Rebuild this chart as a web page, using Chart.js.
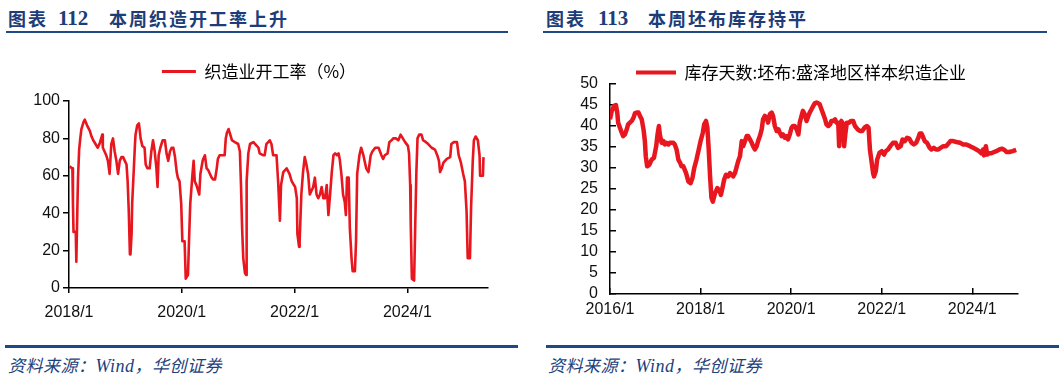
<!DOCTYPE html>
<html lang="zh">
<head>
<meta charset="UTF-8">
<title>本周织造开工率上升 / 本周坯布库存持平</title>
<script src="https://cdn.jsdelivr.net/npm/chart.js"></script>
<style>
  body { margin: 0; background: #fff; }
  #page { position: relative; width: 1059px; height: 379px; overflow: hidden; }
  .t { position: absolute; top: 6px; color: #1c3d78; font: 700 18px "Noto Sans CJK SC", sans-serif; letter-spacing: 2px; line-height: 24px; white-space: nowrap; }
  .n { font-family: "Liberation Serif", serif; font-size: 21px; letter-spacing: 0; }
  .bar { position: absolute; background: #1d4a86; }
  .src { position: absolute; top: 352px; color: #1d3f7a; font: italic 17px "Noto Sans CJK SC", sans-serif; letter-spacing: 0.5px; white-space: nowrap; }
  .src i { font-family: "Liberation Serif", serif; font-size: 18px; }
  canvas { position: absolute; top: 40px; }
</style>
</head>
<body>
<div id="page">
  <div class="t" style="left:8px">图表</div>
  <div class="t n" style="left:58px">112</div>
  <div class="t" style="left:109px">本周织造开工率上升</div>
  <div class="bar" style="left:6px; top:31px; width:502px; height:2px"></div>

  <div class="t" style="left:546px">图表</div>
  <div class="t n" style="left:598px">113</div>
  <div class="t" style="left:648px">本周坯布库存持平</div>
  <div class="bar" style="left:543px; top:31px; width:504px; height:2px"></div>

  <canvas id="left" width="530" height="290" style="left:0"></canvas>
  <canvas id="right" width="529" height="290" style="left:530px"></canvas>

  <div class="bar" style="left:5px; top:345px; width:513px; height:3px"></div>
  <div class="bar" style="left:546px; top:345px; width:513px; height:3px"></div>
  <div class="src" style="left:8px">资料来源：<i>Wind</i>，华创证券</div>
  <div class="src" style="left:548px">资料来源：<i>Wind</i>，华创证券</div>
</div>

<script>
// 织造业开工率（%），周度，日期为小数年份
const leftDates = [
  2018.01, 2018.06, 2018.07, 2018.08, 2018.12, 2018.13, 2018.14, 2018.15, 2018.16, 2018.18,
  2018.20, 2018.22, 2018.26, 2018.28, 2018.32, 2018.37, 2018.40, 2018.43, 2018.47, 2018.51,
  2018.54, 2018.59, 2018.60, 2018.63, 2018.66, 2018.69, 2018.72, 2018.75, 2018.78, 2018.81,
  2018.84, 2018.87, 2018.90, 2018.93, 2018.96, 2018.99, 2019.02, 2019.04, 2019.06, 2019.08,
  2019.09, 2019.11, 2019.12, 2019.15, 2019.17, 2019.18, 2019.21, 2019.24, 2019.27, 2019.30,
  2019.34, 2019.36, 2019.39, 2019.43, 2019.46, 2019.49, 2019.52, 2019.55, 2019.57, 2019.59,
  2019.62, 2019.66, 2019.70, 2019.73, 2019.76, 2019.79, 2019.82, 2019.85, 2019.88, 2019.91,
  2019.93, 2019.96, 2019.99, 2020.01, 2020.05, 2020.07, 2020.11, 2020.13, 2020.15, 2020.19,
  2020.21, 2020.23, 2020.26, 2020.31, 2020.33, 2020.37, 2020.38, 2020.41, 2020.44, 2020.47,
  2020.50, 2020.53, 2020.56, 2020.59, 2020.62, 2020.64, 2020.67, 2020.73, 2020.76, 2020.78,
  2020.80, 2020.83, 2020.86, 2020.89, 2020.94, 2021.00, 2021.03, 2021.05, 2021.07, 2021.09,
  2021.12, 2021.14, 2021.15, 2021.18, 2021.21, 2021.27, 2021.33, 2021.36, 2021.38, 2021.44,
  2021.47, 2021.50, 2021.56, 2021.59, 2021.62, 2021.68, 2021.71, 2021.74, 2021.76, 2021.80,
  2021.86, 2021.91, 2021.95, 2022.01, 2022.04, 2022.05, 2022.08, 2022.09, 2022.12, 2022.15,
  2022.18, 2022.21, 2022.24, 2022.27, 2022.33, 2022.36, 2022.39, 2022.42, 2022.45, 2022.48,
  2022.51, 2022.54, 2022.57, 2022.60, 2022.63, 2022.66, 2022.69, 2022.72, 2022.75, 2022.78,
  2022.80, 2022.83, 2022.86, 2022.89, 2022.91, 2022.93, 2022.96, 2022.98, 2023.01, 2023.03,
  2023.07, 2023.09, 2023.11, 2023.15, 2023.18, 2023.22, 2023.27, 2023.31, 2023.35, 2023.38,
  2023.43, 2023.49, 2023.54, 2023.57, 2023.60, 2023.65, 2023.68, 2023.72, 2023.75, 2023.80,
  2023.84, 2023.88, 2023.92, 2023.96, 2024.01, 2024.03, 2024.05, 2024.06, 2024.08, 2024.12,
  2024.14, 2024.16, 2024.18, 2024.21, 2024.25, 2024.28, 2024.33, 2024.37, 2024.43, 2024.49,
  2024.53, 2024.56, 2024.58, 2024.61, 2024.64, 2024.70, 2024.76, 2024.78, 2024.82, 2024.88,
  2024.91, 2024.95, 2024.99, 2025.02, 2025.05, 2025.07, 2025.11, 2025.13, 2025.16, 2025.18,
  2025.21, 2025.25, 2025.28, 2025.29, 2025.34, 2025.35
];
const leftValues = [
  65, 64, 45, 30, 30, 14, 14, 45, 59, 74,
  80, 85, 89, 90, 87, 84, 81, 79, 77, 75,
  77, 82, 75, 73, 71, 68, 61, 77, 80, 73,
  68, 61, 68, 70, 70, 68, 66, 57, 41, 18,
  18, 29, 45, 64, 77, 82, 87, 88, 80, 76,
  75, 66, 64, 64, 73, 79, 73, 64, 54, 71,
  75, 79, 79, 72, 68, 73, 75, 75, 70, 62,
  59, 57, 45, 25, 25, 5, 7, 27, 45, 61,
  68, 57, 55, 50, 61, 68, 69, 71, 64, 63,
  61, 59, 58, 58, 64, 69, 71, 71, 71, 80,
  83, 85, 82, 79, 78, 77, 73, 55, 32, 16,
  8, 7, 57, 72, 77, 78, 76, 75, 72, 71,
  71, 77, 79, 77, 71, 71, 56, 36, 55, 62,
  64, 61, 57, 54, 48, 29, 22, 25, 50, 62,
  70, 66, 61, 50, 54, 59, 50, 48, 50, 54,
  48, 48, 55, 39, 50, 62, 71, 72, 71, 72,
  69, 61, 50, 46, 39, 59, 59, 32, 16, 9,
  9, 25, 61, 71, 75, 71, 64, 62, 71, 73,
  75, 75, 71, 69, 71, 72, 78, 79, 80, 80,
  79, 82, 80, 78, 76, 72, 55, 34, 5, 4,
  34, 62, 80, 82, 82, 79, 78, 77, 75, 74,
  71, 68, 62, 64, 67, 69, 70, 77, 78, 78,
  71, 67, 61, 57, 41, 16, 16, 43, 68, 79,
  81, 79, 71, 60, 60, 70
];

// 库存天数:坯布:盛泽地区样本织造企业
const rightDates = [
  2016.00, 2016.04, 2016.09, 2016.13, 2016.16, 2016.18, 2016.22, 2016.26, 2016.29, 2016.33,
  2016.37, 2016.40, 2016.44, 2016.48, 2016.52, 2016.55, 2016.59, 2016.63, 2016.66, 2016.70,
  2016.74, 2016.77, 2016.79, 2016.82, 2016.87, 2016.92, 2016.97, 2017.02, 2017.05, 2017.08,
  2017.10, 2017.14, 2017.18, 2017.21, 2017.25, 2017.29, 2017.32, 2017.36, 2017.40, 2017.43,
  2017.47, 2017.51, 2017.55, 2017.58, 2017.62, 2017.68, 2017.73, 2017.78, 2017.82, 2017.86,
  2017.91, 2017.96, 2018.00, 2018.05, 2018.08, 2018.12, 2018.15, 2018.18, 2018.21, 2018.24,
  2018.27, 2018.32, 2018.37, 2018.41, 2018.45, 2018.49, 2018.52, 2018.56, 2018.61, 2018.65,
  2018.69, 2018.72, 2018.76, 2018.80, 2018.83, 2018.87, 2018.91, 2018.94, 2018.98, 2019.02,
  2019.05, 2019.09, 2019.13, 2019.16, 2019.20, 2019.24, 2019.27, 2019.31, 2019.35, 2019.38,
  2019.42, 2019.46, 2019.49, 2019.53, 2019.57, 2019.60, 2019.64, 2019.68, 2019.72, 2019.75,
  2019.79, 2019.82, 2019.86, 2019.90, 2019.93, 2019.97, 2020.01, 2020.04, 2020.08, 2020.12,
  2020.16, 2020.19, 2020.23, 2020.26, 2020.30, 2020.34, 2020.38, 2020.41, 2020.45, 2020.49,
  2020.52, 2020.56, 2020.60, 2020.63, 2020.67, 2020.71, 2020.75, 2020.78, 2020.82, 2020.86,
  2020.89, 2020.93, 2020.97, 2021.00, 2021.04, 2021.06, 2021.09, 2021.11, 2021.15, 2021.17,
  2021.20, 2021.23, 2021.28, 2021.32, 2021.37, 2021.41, 2021.47, 2021.52, 2021.57, 2021.62,
  2021.67, 2021.71, 2021.74, 2021.78, 2021.81, 2021.83, 2021.87, 2021.90, 2021.95, 2022.00,
  2022.05, 2022.09, 2022.14, 2022.19, 2022.25, 2022.31, 2022.36, 2022.42, 2022.46, 2022.51,
  2022.56, 2022.61, 2022.66, 2022.71, 2022.76, 2022.81, 2022.84, 2022.88, 2022.92, 2022.95,
  2023.00, 2023.06, 2023.10, 2023.15, 2023.20, 2023.25, 2023.30, 2023.36, 2023.42, 2023.47,
  2023.52, 2023.58, 2023.65, 2023.73, 2023.80, 2023.87, 2023.95, 2024.02, 2024.09, 2024.15,
  2024.20, 2024.24, 2024.26, 2024.30, 2024.33, 2024.37, 2024.42, 2024.48, 2024.53, 2024.60,
  2024.66, 2024.71, 2024.76, 2024.82, 2024.89, 2024.97
];
const rightValues = [
  41.6, 43.6, 44.8, 45.0, 43.2, 40.8, 39.6, 38.4, 37.6, 38.0,
  39.2, 40.4, 40.8, 41.2, 42.0, 43.0, 43.2, 43.2, 42.4, 41.6,
  39.2, 36.4, 32.8, 30.4, 30.8, 32.0, 32.4, 35.2, 38.0, 40.0,
  38.0, 36.0, 36.4, 35.6, 36.0, 35.6, 36.0, 36.0, 36.0, 35.6,
  34.4, 32.0, 31.2, 30.4, 30.4, 28.8, 26.8, 26.4, 27.6, 30.0,
  32.0, 34.4, 36.4, 38.4, 40.4, 41.2, 39.6, 34.4, 28.0, 22.9,
  22.0, 24.0, 25.2, 24.8, 23.6, 25.6, 27.2, 28.4, 28.0, 28.8,
  28.4, 28.0, 28.8, 30.4, 31.6, 32.8, 36.4, 35.2, 36.4, 37.6,
  37.6, 36.8, 36.0, 35.2, 34.4, 35.2, 36.4, 37.6, 39.2, 41.6,
  42.4, 42.0, 40.8, 42.8, 43.2, 42.4, 40.0, 38.8, 39.2, 38.4,
  37.6, 38.0, 37.2, 37.6, 36.8, 38.0, 39.6, 40.0, 40.0, 39.2,
  38.0, 40.8, 42.4, 43.6, 42.8, 41.2, 42.4, 43.2, 44.0, 44.8,
  45.4, 45.6, 45.4, 45.2, 44.0, 42.8, 41.6, 40.4, 40.0, 40.4,
  41.2, 41.2, 41.6, 40.8, 40.8, 35.2, 40.8, 41.2, 40.4, 35.2,
  38.4, 40.8, 40.8, 41.2, 41.2, 40.0, 39.2, 38.8, 38.8, 39.6,
  40.0, 39.6, 34.4, 31.2, 28.8, 28.0, 29.2, 32.0, 33.6, 34.0,
  33.2, 34.0, 34.4, 35.2, 36.0, 36.0, 34.8, 35.2, 36.8, 36.4,
  37.2, 37.0, 36.0, 35.6, 36.0, 37.2, 38.2, 38.2, 37.2, 36.4,
  36.0, 34.8, 34.4, 34.8, 34.4, 34.4, 34.8, 35.2, 35.2, 35.8,
  36.4, 36.4, 36.2, 36.0, 35.6, 35.6, 35.2, 34.8, 34.4, 34.0,
  33.5, 34.4, 33.0, 35.2, 33.2, 33.5, 33.5, 33.8, 34.0, 34.4,
  34.6, 34.3, 33.8, 33.8, 34.0, 34.3
];

const leftTicks = [2018, 2020, 2022, 2024];
const leftTickLabels = ['2018/1', '2020/1', '2022/1', '2024/1'];
const rightTicks = [2016, 2018, 2020, 2022, 2024];
const rightTickLabels = ['2016/1', '2018/1', '2020/1', '2022/1', '2024/1'];

const RED = '#e8161f';
Chart.defaults.font.family = '"Liberation Sans", Arial, sans-serif';
Chart.defaults.color = '#111';
Chart.defaults.animation = false;

// legend: extra room below it and a sideways nudge
const legendGap = {
  id: 'legendGap',
  beforeLayout(chart, args, opts) {
    const lg = chart.legend;
    if (!lg || lg._gapDone) return;
    const fit = lg.fit;
    lg.fit = function () { fit.call(this); this.height += opts.extra; };
    lg._gapDone = true;
  },
  afterLayout(chart, args, opts) {
    chart.legend.left += opts.dx;
    chart.legend.right += opts.dx;
  }
};

function lineLegend(chart) {
  const ds = chart.data.datasets[0];
  return [{ text: ds.label, fillStyle: RED, strokeStyle: RED, lineWidth: 0, datasetIndex: 0 }];
}

function makeChart(id, s) {
  const pts = s.dates.map((d, i) => ({ x: d, y: s.values[i] }));
  return new Chart(document.getElementById(id), {
    type: 'line',
    data: {
      datasets: [{
        label: s.label,
        data: pts,
        borderColor: RED,
        borderWidth: s.lineWidth,
        borderJoinStyle: 'round',
        pointRadius: 0,
        tension: 0,
        fill: false
      }]
    },
    options: {
      responsive: false,
      layout: { padding: s.padding },
      plugins: {
        tooltip: { enabled: false },
        legendGap: { extra: s.legendExtra, dx: s.legendDx },
        legend: {
          position: 'top',
          labels: {
            font: { family: '"Noto Sans CJK SC", sans-serif', size: 17 },
            color: '#222',
            boxWidth: s.boxWidth,
            boxHeight: s.boxHeight,
            padding: 8,
            generateLabels: lineLegend
          }
        }
      },
      scales: {
        x: {
          type: 'linear',
          min: s.xMin,
          max: s.xMax,
          afterBuildTicks: sc => { sc.ticks = s.xTicks.map(v => ({ value: v })); },
          afterFit: sc => { sc.height = s.xHeight; },
          ticks: {
            autoSkip: false,
            maxRotation: 0,
            font: { size: 16 },
            padding: s.xPad,
            callback: (v, i) => s.xTickLabels[i]
          },
          grid: { drawOnChartArea: false, color: '#000', lineWidth: 1.5, tickLength: s.xTickLen },
          border: { color: '#000', width: 1.5 }
        },
        y: {
          min: s.yMin,
          max: s.yMax,
          afterFit: sc => { sc.width = s.yWidth; },
          ticks: { stepSize: s.yStep, autoSkip: false, font: { size: 16 }, padding: s.yPad },
          grid: { drawOnChartArea: false, color: '#000', lineWidth: 1.5, tickLength: s.yTickLen },
          border: { color: '#000', width: 1.5 }
        }
      }
    },
    plugins: [legendGap]
  });
}

makeChart('left', {
  label: '织造业开工率（%）',
  dates: leftDates, values: leftValues,
  lineWidth: 2.6, boxWidth: 34, boxHeight: 3,
  xMin: 2018, xMax: 2025.43, xTicks: leftTicks, xTickLabels: leftTickLabels,
  yMin: 0, yMax: 100, yStep: 20,
  padding: { top: 15, left: 0, right: 42, bottom: 0 },
  legendExtra: 11, legendDx: 15,
  xHeight: 42, xPad: 10, xTickLen: 5,
  yWidth: 69, yPad: 3, yTickLen: 6
});

makeChart('right', {
  label: '库存天数:坯布:盛泽地区样本织造企业',
  dates: rightDates, values: rightValues,
  lineWidth: 4.5, boxWidth: 40, boxHeight: 4,
  xMin: 2016, xMax: 2025.01, xTicks: rightTicks, xTickLabels: rightTickLabels,
  yMin: 0, yMax: 50, yStep: 5,
  padding: { top: 16, left: 0, right: 41, bottom: 0 },
  legendExtra: -7, legendDx: 27,
  xHeight: 36, xPad: 12, xTickLen: -6,
  yWidth: 80, yPad: 18, yTickLen: -6
});
</script>
</body>
</html>
